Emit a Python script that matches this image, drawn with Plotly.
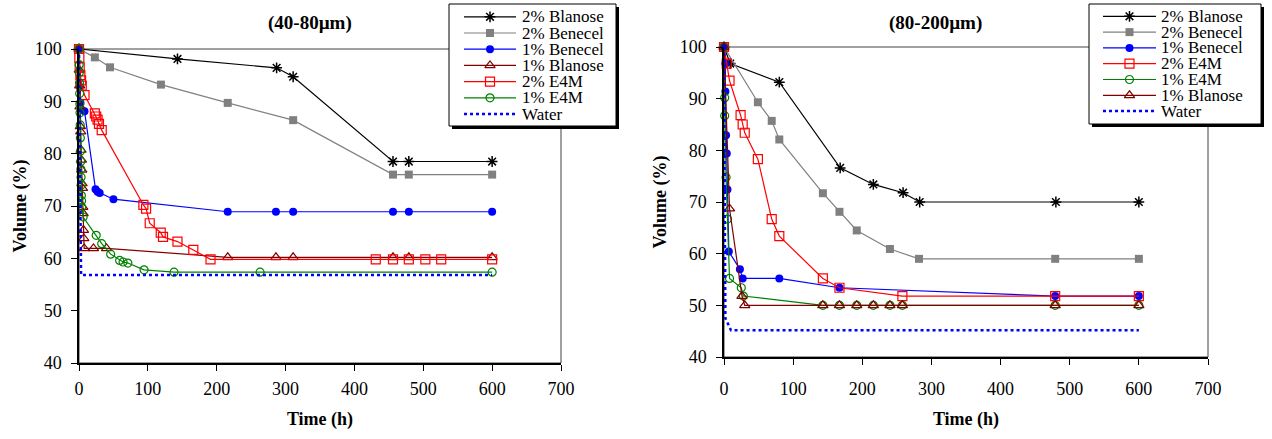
import plotly.graph_objects as go

# ---------------- data ----------------
# Left panel (40-80 µm)
L_blanose2_t = [0, 143, 287, 311, 456, 479, 600]
L_blanose2_v = [100, 98.1, 96.4, 94.7, 78.5, 78.5, 78.5]
L_benecel2_t = [0, 23, 45, 119, 216, 311, 456, 479, 600]
L_benecel2_v = [100, 98.4, 96.5, 93.2, 89.7, 86.4, 76.0, 76.0, 76.0]
L_benecel1_t = [0, 1, 2, 8, 24, 27, 30, 50, 216, 286, 311, 456, 479, 600]
L_benecel1_v = [100, 92.8, 89.8, 88.1, 73.2, 72.7, 72.5, 71.3, 68.9, 68.9, 68.9, 68.9, 68.9, 68.9]
L_blanose1_t = [0, 0.5, 1, 1.5, 2, 2.5, 3, 3.5, 4, 4.5, 5, 5.5, 6, 6.5, 7, 7.5, 21, 40, 216, 286, 311, 456, 479, 600]
L_blanose1_v = [100, 96, 93, 89, 85.2, 84.2, 80.7, 78.8, 76.9, 74.3, 73.4, 69.8, 68.6, 65.4, 63.8, 61.9,
                61.9, 61.9, 60.2, 60.2, 60.2, 60.2, 60.2, 60.2]
L_e4m2_t = [0, 0.5, 1, 2, 3, 4, 8, 23, 25, 27, 29, 33, 93.5, 97.4, 102.7, 118.7, 122, 143, 166, 191,
            431, 456, 479, 503, 526, 600]
L_e4m2_v = [100, 98.3, 96.5, 95, 94, 93, 91.2, 87.7, 87.1, 86.5, 85.7, 84.5, 70.2, 69.5, 66.7, 64.9, 64.1,
            63.2, 61.6, 59.8, 59.8, 59.8, 59.8, 59.8, 59.8, 59.8]
L_e4m1_t = [0, 0.25, 0.5, 0.75, 1, 1.25, 1.5, 1.75, 2, 2.25, 2.5, 2.75, 3, 3.25, 3.5, 3.75, 4,
            6, 25, 33, 46, 59, 64, 71, 94.5, 138, 263, 600]
L_e4m1_v = [100, 97, 95.5, 93.5, 91.5, 89.5, 87.8, 85.5, 83, 80.5, 78.5, 77, 75.5, 74, 72, 71, 69.8,
            67.9, 64.4, 62.8, 60.8, 59.6, 59.3, 59.1, 57.8, 57.35, 57.35, 57.35]
L_water_t = [0, 3, 600]
L_water_v = [100, 56.8, 56.8]

# Right panel (80-200 µm)
R_blanose2_t = [0, 9, 80, 168, 216, 259, 283, 480, 600]
R_blanose2_v = [100, 96.8, 93.2, 76.6, 73.4, 71.8, 70.0, 70.0, 70.0]
R_benecel2_t = [0, 49, 69, 80, 143, 167, 192, 240, 282, 479, 600]
R_benecel2_v = [100, 89.3, 85.7, 82.1, 71.7, 68.1, 64.5, 60.9, 59.0, 59.0, 59.0]
R_benecel1_t = [0, 2, 2, 3, 4, 5, 7, 23, 27, 80, 167, 479, 600]
R_benecel1_v = [100, 96.8, 91.4, 82.9, 79.4, 72.4, 60.4, 57.0, 55.2, 55.2, 53.4, 51.8, 51.8]
R_e4m2_t = [0, 4, 8, 24, 27, 30, 49, 69, 80, 143, 167, 258, 479, 600]
R_e4m2_v = [100, 96.8, 93.5, 86.8, 85.0, 83.4, 78.3, 66.7, 63.4, 55.2, 53.4, 51.8, 51.8, 51.8]
R_e4m1_t = [0, 1, 1, 3, 5, 8, 25, 28, 143, 167, 192, 216, 240, 258, 479, 600]
R_e4m1_v = [100, 90.2, 86.7, 74.8, 66.7, 55.2, 53.4, 51.8, 50, 50, 50, 50, 50, 50, 50, 50]
R_blanose1_t = [0, 8, 26, 30, 143, 167, 192, 216, 240, 258, 479, 600]
R_blanose1_v = [100, 68.7, 51.8, 50, 50, 50, 50, 50, 50, 50, 50, 50]
R_water_t = [0, 2, 10, 600]
R_water_v = [100, 47.5, 45.2, 45.2]

panel_titles = ["(40-80µm)", "(80-200µm)"]
x_title = "Time (h)"
y_title = "Volume (%)"
x_ticks = [0, 100, 200, 300, 400, 500, 600, 700]
y_ticks = [40, 50, 60, 70, 80, 90, 100]

left_series = [
    ("2% Blanose", L_blanose2_t, L_blanose2_v),
    ("2% Benecel", L_benecel2_t, L_benecel2_v),
    ("1% Benecel", L_benecel1_t, L_benecel1_v),
    ("1% Blanose", L_blanose1_t, L_blanose1_v),
    ("2% E4M", L_e4m2_t, L_e4m2_v),
    ("1% E4M", L_e4m1_t, L_e4m1_v),
    ("Water", L_water_t, L_water_v),
]
right_series = [
    ("2% Blanose", R_blanose2_t, R_blanose2_v),
    ("2% Benecel", R_benecel2_t, R_benecel2_v),
    ("1% Benecel", R_benecel1_t, R_benecel1_v),
    ("2% E4M", R_e4m2_t, R_e4m2_v),
    ("1% E4M", R_e4m1_t, R_e4m1_v),
    ("1% Blanose", R_blanose1_t, R_blanose1_v),
    ("Water", R_water_t, R_water_v),
]

# ---------------- styles ----------------
STYLE = {
    "2% Blanose": dict(color="#000000", symbol="asterisk-open", size=9, lw=1.5, dash="solid"),
    "2% Benecel": dict(color="#808080", symbol="square", size=8, lw=0, dash="solid"),
    "1% Benecel": dict(color="#0000FF", symbol="circle", size=8, lw=0, dash="solid"),
    "1% Blanose": dict(color="#800000", symbol="triangle-up-open", size=9, lw=1.2, dash="solid"),
    "2% E4M": dict(color="#FF0000", symbol="square-open", size=9, lw=1.2, dash="solid"),
    "1% E4M": dict(color="#008000", symbol="circle-open", size=8, lw=1.2, dash="solid"),
    "Water": dict(color="#0000FF", symbol=None, size=0, lw=0, dash="dot"),
}
FONT = "Liberation Serif, Times New Roman, serif"
W, H = 1272, 439

# plot areas in pixels (left, top, right, bottom)
PANELS = [
    dict(box=(79, 49, 561, 363), title_x=310, title_y=23, xlab_standoff=3, ytitle_standoff=3),
    dict(box=(724, 47, 1208, 357), title_x=935, title_y=23, xlab_standoff=9, ytitle_standoff=8),
]
LEGENDS = [
    dict(box=(449, 4, 616, 126), row0=16.8, step=16.2, l0=464, l1=516, tx=520),
    dict(box=(1089, 4, 1261, 124), row0=16.3, step=15.8, l0=1103, l1=1156, tx=1159),
]


def px_dom_x(a, b):
    return [a / W, b / W]


def px_dom_y(top, bottom):
    return [1 - bottom / H, 1 - top / H]


fig = go.Figure()
layout = dict(
    width=W, height=H, margin=dict(l=0, r=0, t=0, b=0, autoexpand=False),
    paper_bgcolor="white", plot_bgcolor="rgba(0,0,0,0)", showlegend=False,
    font=dict(family=FONT, color="black"),
)
annotations = []
shapes = []

for i, (series, pan) in enumerate(zip([left_series, right_series], PANELS)):
    xa = "x" if i == 0 else "x2"
    ya = "y" if i == 0 else "y2"
    l, t, r, b = pan["box"]
    axis_common = dict(
        showgrid=False, zeroline=False, showline=True, linecolor="black", linewidth=1.5,
        ticks="outside", ticklen=6, tickcolor="black", tickwidth=1, automargin=False,
        tickfont=dict(family=FONT, size=18, color="black"),
    )
    layout["xaxis" if i == 0 else "xaxis2"] = dict(
        axis_common, domain=px_dom_x(l, r), range=[0, 700], tickvals=x_ticks,
        anchor=ya, ticklabelstandoff=pan["xlab_standoff"],
        title=dict(text=x_title, font=dict(family=FONT, size=18, weight="bold"), standoff=14),
    )
    layout["yaxis" if i == 0 else "yaxis2"] = dict(
        axis_common, domain=px_dom_y(t, b), range=[40, 100], tickvals=y_ticks,
        anchor=xa, ticklabelstandoff=6,
        title=dict(text=y_title, font=dict(family=FONT, size=18, weight="bold"),
                   standoff=pan["ytitle_standoff"]),
    )
    # plot-area frame
    shapes.append(dict(type="rect", xref=f"{xa} domain", yref=f"{ya} domain", x0=0, x1=1, y0=0, y1=1,
                       line=dict(color="#404040", width=1), layer="below"))
    annotations.append(dict(text=panel_titles[i], x=pan["title_x"] / W, y=1 - pan["title_y"] / H,
                            xref="paper", yref="paper", showarrow=False, xanchor="center", yanchor="middle",
                            font=dict(family=FONT, size=19, color="black", weight="bold")))
    for name, tt, vv in series:
        s = STYLE[name]
        if name == "Water":
            fig.add_trace(go.Scatter(x=tt, y=vv, mode="lines", name=name, xaxis=xa, yaxis=ya,
                                     line=dict(color=s["color"], width=2.5, dash="dot")))
        else:
            fig.add_trace(go.Scatter(
                x=tt, y=vv, mode="lines+markers", name=name, xaxis=xa, yaxis=ya, cliponaxis=False,
                line=dict(color=s["color"], width=1.2),
                marker=dict(symbol=s["symbol"], size=s["size"], color=s["color"],
                            line=dict(color=s["color"], width=s["lw"])),
            ))

# ---------------- hand-drawn legends (one per panel) ----------------
for i, (series, lg) in enumerate(zip([left_series, right_series], LEGENDS)):
    n = i + 3
    xa, ya = f"x{n}", f"y{n}"
    l, t, r, b = lg["box"]
    sh = 3
    layout[f"xaxis{n}"] = dict(domain=px_dom_x(l - 1, r + sh + 1), range=[l - 1, r + sh + 1], visible=False,
                               anchor=ya, fixedrange=True, automargin=False)
    layout[f"yaxis{n}"] = dict(domain=px_dom_y(t - 1, b + sh + 1), range=[b + sh + 1, t - 1], visible=False,
                               anchor=xa, fixedrange=True, automargin=False)
    fig.add_trace(go.Scatter(x=[l + sh, r + sh, r + sh, l + sh, l + sh], y=[t + sh, t + sh, b + sh, b + sh, t + sh],
                             mode="lines", fill="toself", fillcolor="black", line=dict(width=0),
                             xaxis=xa, yaxis=ya, hoverinfo="skip"))
    fig.add_trace(go.Scatter(x=[l, r, r, l, l], y=[t, t, b, b, t], mode="lines", fill="toself",
                             fillcolor="white", line=dict(color="black", width=1),
                             xaxis=xa, yaxis=ya, hoverinfo="skip"))
    for k, (name, _, _) in enumerate(series):
        s = STYLE[name]
        ry = lg["row0"] + k * lg["step"]
        if name == "Water":
            fig.add_trace(go.Scatter(x=[lg["l0"], lg["l1"]], y=[ry, ry], mode="lines", xaxis=xa, yaxis=ya,
                                     line=dict(color=s["color"], width=2.5, dash="dot"), hoverinfo="skip"))
        else:
            fig.add_trace(go.Scatter(x=[lg["l0"], lg["l1"]], y=[ry, ry], mode="lines", xaxis=xa, yaxis=ya,
                                     line=dict(color=s["color"], width=1.2), hoverinfo="skip"))
            fig.add_trace(go.Scatter(x=[(lg["l0"] + lg["l1"]) / 2], y=[ry], mode="markers", xaxis=xa, yaxis=ya,
                                     marker=dict(symbol=s["symbol"], size=s["size"], color=s["color"],
                                                 line=dict(color=s["color"], width=s["lw"])),
                                     hoverinfo="skip"))
        annotations.append(dict(text=name, x=lg["tx"], y=ry, xref=xa, yref=ya, showarrow=False,
                                xanchor="left", yanchor="middle",
                                font=dict(family=FONT, size=17, color="black")))

layout["annotations"] = annotations
layout["shapes"] = shapes
fig.update_layout(**layout)
fig.write_html("out.html", config={"displayModeBar": False},
               post_script="document.body.style.margin='0';document.body.style.padding='0';")
